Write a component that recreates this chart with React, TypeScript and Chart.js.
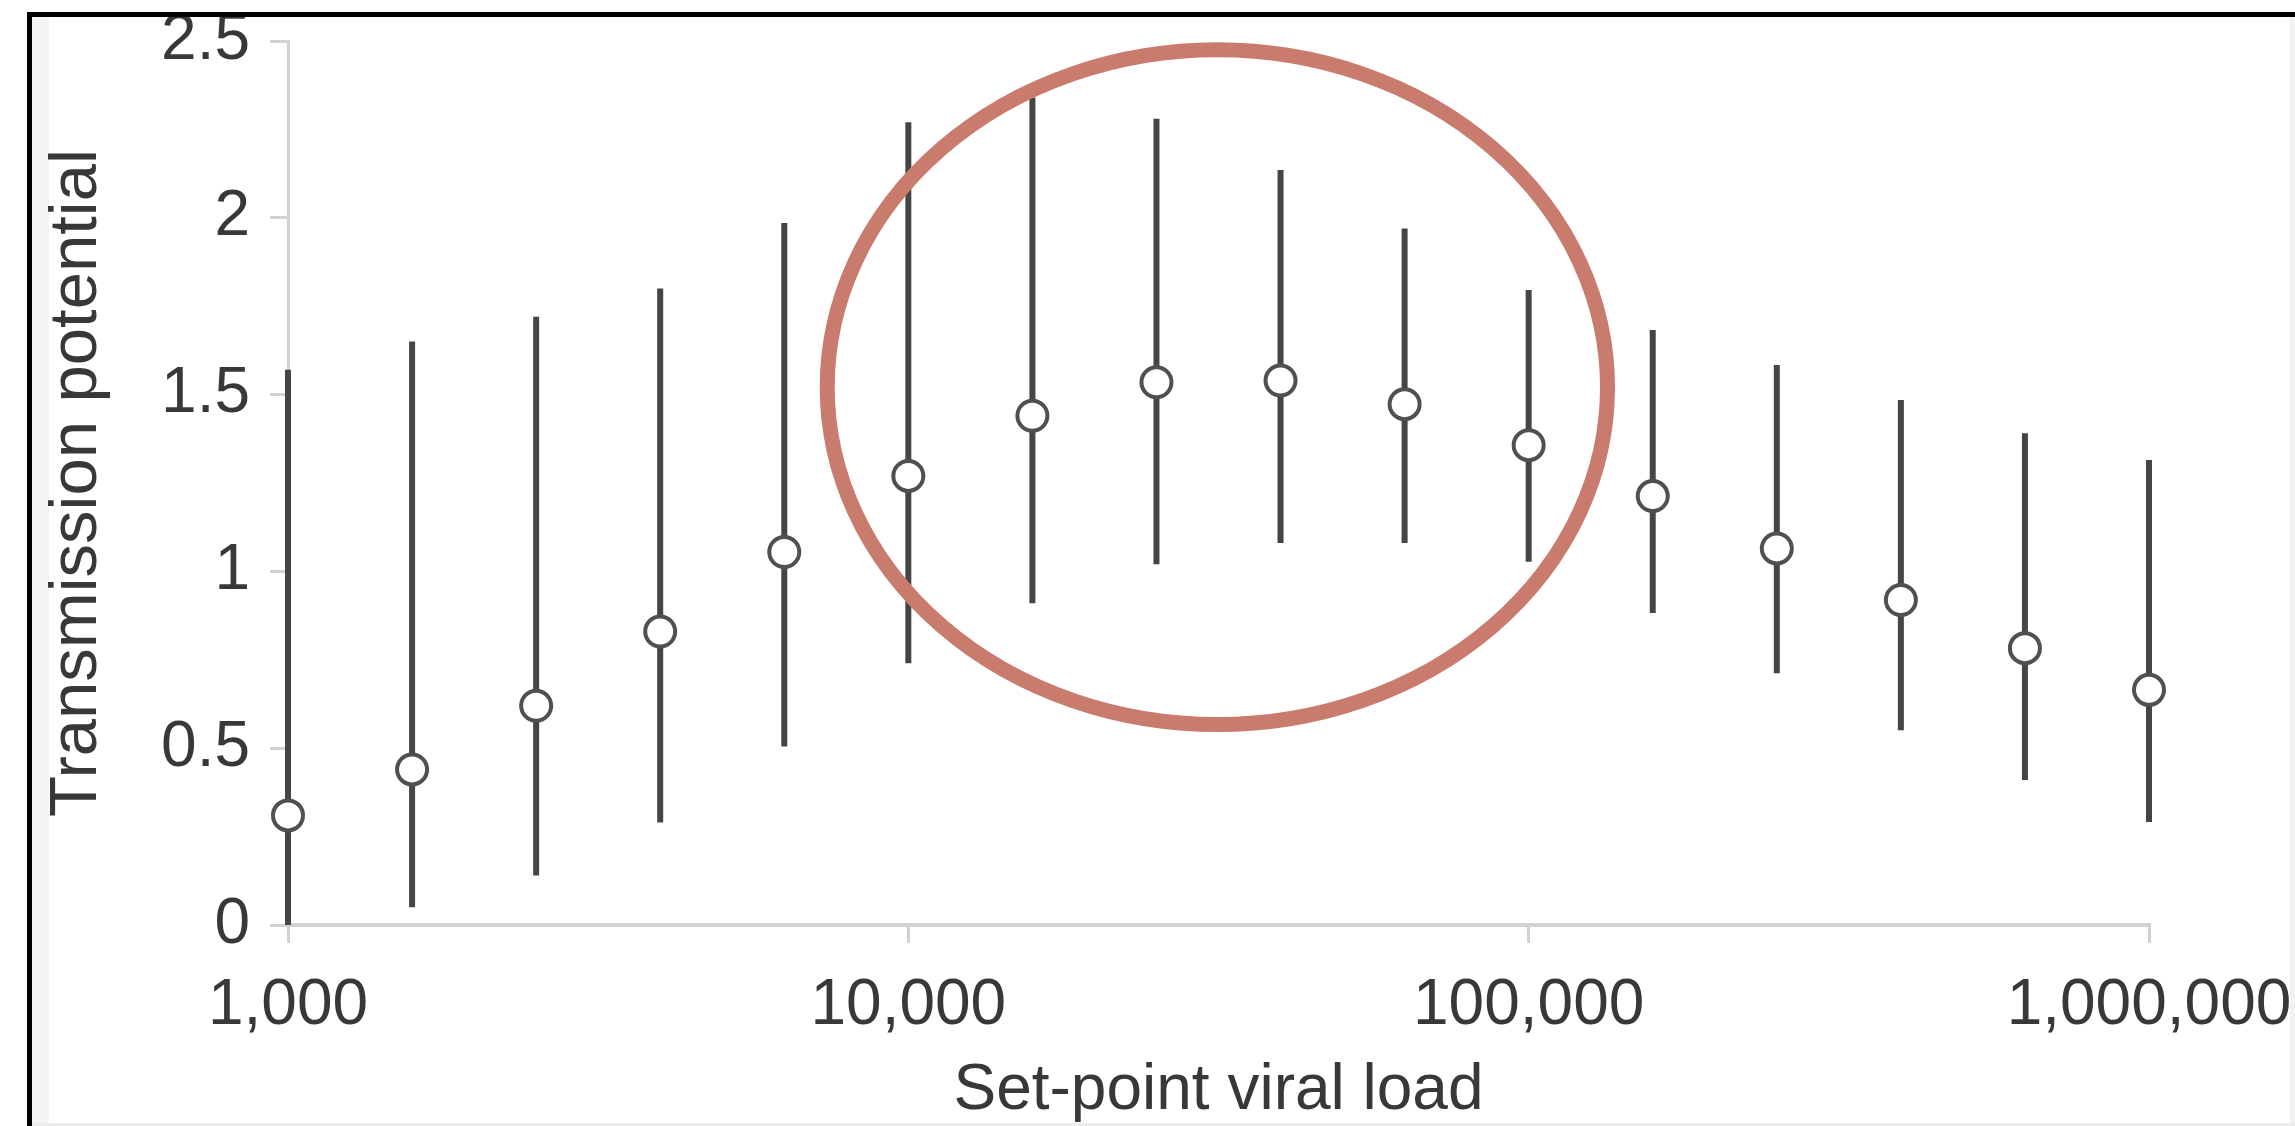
import React, { useEffect, useRef } from "react";
import { Chart, registerables } from "chart.js";

Chart.register(...registerables);

// ---- data ----
const VIRAL_LOAD = [1000, 1585, 2512, 3981, 6310, 10000, 15849, 25119, 39811, 63096, 100000, 158489, 251189, 398107, 630957, 1000000];
const POTENTIAL = [0.31, 0.44, 0.62, 0.83, 1.055, 1.27, 1.44, 1.535, 1.54, 1.473, 1.357, 1.213, 1.065, 0.919, 0.783, 0.665];
const UPPER = [1.57, 1.65, 1.72, 1.8, 1.985, 2.27, 2.34, 2.28, 2.135, 1.97, 1.796, 1.683, 1.584, 1.485, 1.391, 1.315];
const LOWER = [0, 0.05, 0.14, 0.29, 0.505, 0.74, 0.91, 1.02, 1.08, 1.08, 1.027, 0.882, 0.712, 0.551, 0.41, 0.291];
const X_TICKS = [1000, 10000, 100000, 1000000];
const Y_MIN = 0;
const Y_MAX = 2.5;
const Y_STEP = 0.5;
const X_TITLE = "Set-point viral load";
const Y_TITLE = "Transmission potential";
// highlighted region (ellipse annotation), in data units
const HIGHLIGHT_X = [7400, 134000];
const HIGHLIGHT_Y = [0.567, 2.475];

const FONT = "'Liberation Sans', Arial, Helvetica, sans-serif";
const TEXT = "#383838";
const AXIS = "#d2d2d2";

const errorBars = {
  id: "errorBars",
  beforeDatasetsDraw(chart: any) {
    const { ctx, scales } = chart;
    const xs = scales.x;
    const ys = scales.y;
    ctx.save();
    ctx.strokeStyle = "#454545";
    ctx.lineWidth = 6;
    ctx.lineCap = "butt";
    for (let i = 0; i < VIRAL_LOAD.length; i++) {
      const x = xs.getPixelForValue(VIRAL_LOAD[i]);
      ctx.beginPath();
      ctx.moveTo(x, ys.getPixelForValue(LOWER[i]));
      ctx.lineTo(x, ys.getPixelForValue(UPPER[i]));
      ctx.stroke();
    }
    ctx.restore();
  },
};

const highlight = {
  id: "highlight",
  afterDraw(chart: any) {
    const { ctx, scales } = chart;
    const x1 = scales.x.getPixelForValue(HIGHLIGHT_X[0]);
    const x2 = scales.x.getPixelForValue(HIGHLIGHT_X[1]);
    const y1 = scales.y.getPixelForValue(HIGHLIGHT_Y[1]);
    const y2 = scales.y.getPixelForValue(HIGHLIGHT_Y[0]);
    ctx.save();
    ctx.strokeStyle = "#c97b6e";
    ctx.lineWidth = 15;
    ctx.beginPath();
    ctx.ellipse((x1 + x2) / 2, (y1 + y2) / 2, (x2 - x1) / 2, (y2 - y1) / 2, 0, 0, Math.PI * 2);
    ctx.stroke();
    ctx.restore();
  },
};

export default function App() {
  const ref = useRef<HTMLCanvasElement | null>(null);

  useEffect(() => {
    if (!ref.current) return;
    const chart = new Chart(ref.current, {
      type: "scatter",
      data: {
        datasets: [
          {
            data: VIRAL_LOAD.map((v, i) => ({ x: v, y: POTENTIAL[i] })),
            pointRadius: 15,
            pointBorderWidth: 4,
            pointBorderColor: "#505050",
            pointBackgroundColor: "#ffffff",
            showLine: false,
            clip: false as any,
          },
        ],
      },
      options: {
        responsive: false,
        animation: false,
        devicePixelRatio: 1,
        layout: { padding: { top: 41, right: 146, bottom: 0, left: 0 } },
        plugins: { legend: { display: false }, tooltip: { enabled: false } },
        scales: {
          x: {
            type: "logarithmic",
            min: 1000,
            max: 1000000,
            afterBuildTicks: (scale: any) => {
              scale.ticks = X_TICKS.map((v) => ({ value: v }));
            },
            afterFit: (scale: any) => {
              scale.height = 201;
              scale.paddingLeft = 0;
              scale.paddingRight = 0;
            },
            ticks: {
              callback: (v: any) => Number(v).toLocaleString("en-US"),
              font: { family: FONT, size: 64 },
              color: TEXT,
              padding: 25,
              maxRotation: 0,
              autoSkip: false,
            },
            grid: { drawOnChartArea: false, drawTicks: true, tickLength: 18, color: AXIS, lineWidth: 3 },
            border: { display: true, color: AXIS, width: 4 },
            title: {
              display: true,
              text: X_TITLE,
              font: { family: FONT, size: 64, lineHeight: 1 },
              color: TEXT,
              padding: { top: 0, bottom: 3 },
            },
          },
          y: {
            min: Y_MIN,
            max: Y_MAX,
            afterFit: (scale: any) => {
              scale.width = 288;
              scale.paddingTop = 0;
              scale.paddingBottom = 0;
            },
            ticks: {
              stepSize: Y_STEP,
              callback: (v: any) => String(Number(v)),
              font: { family: FONT, size: 64 },
              color: TEXT,
              padding: 20,
            },
            grid: { drawOnChartArea: false, drawTicks: true, tickLength: 18, color: AXIS, lineWidth: 3 },
            border: { display: true, color: AXIS, width: 3 },
            title: {
              display: true,
              text: Y_TITLE,
              font: { family: FONT, size: 67, lineHeight: 1 },
              color: TEXT,
              padding: { top: 44, bottom: 0 },
            },
          },
        },
      },
      plugins: [errorBars, highlight],
    } as any);
    return () => chart.destroy();
  }, []);

  return (
    <div style={{ position: "fixed", left: 0, top: 0, width: 2295, height: 1126, background: "#ffffff", overflow: "hidden" }}>
      <div style={{ position: "absolute", left: 32, top: 17, width: 17, height: 1109, background: "#f4f4f4" }} />
      <div style={{ position: "absolute", left: 2290, top: 17, width: 5, height: 1109, background: "#f2f2f2" }} />
      <div style={{ position: "absolute", left: 32, top: 1123, width: 2263, height: 3, background: "#ececec" }} />
      <canvas ref={ref} width={2295} height={1126} style={{ position: "absolute", left: 0, top: 0, width: 2295, height: 1126 }} />
      <div style={{ position: "absolute", left: 27, top: 12, width: 2268, height: 5, background: "#000" }} />
      <div style={{ position: "absolute", left: 27, top: 12, width: 5, height: 1114, background: "#000" }} />
    </div>
  );
}
